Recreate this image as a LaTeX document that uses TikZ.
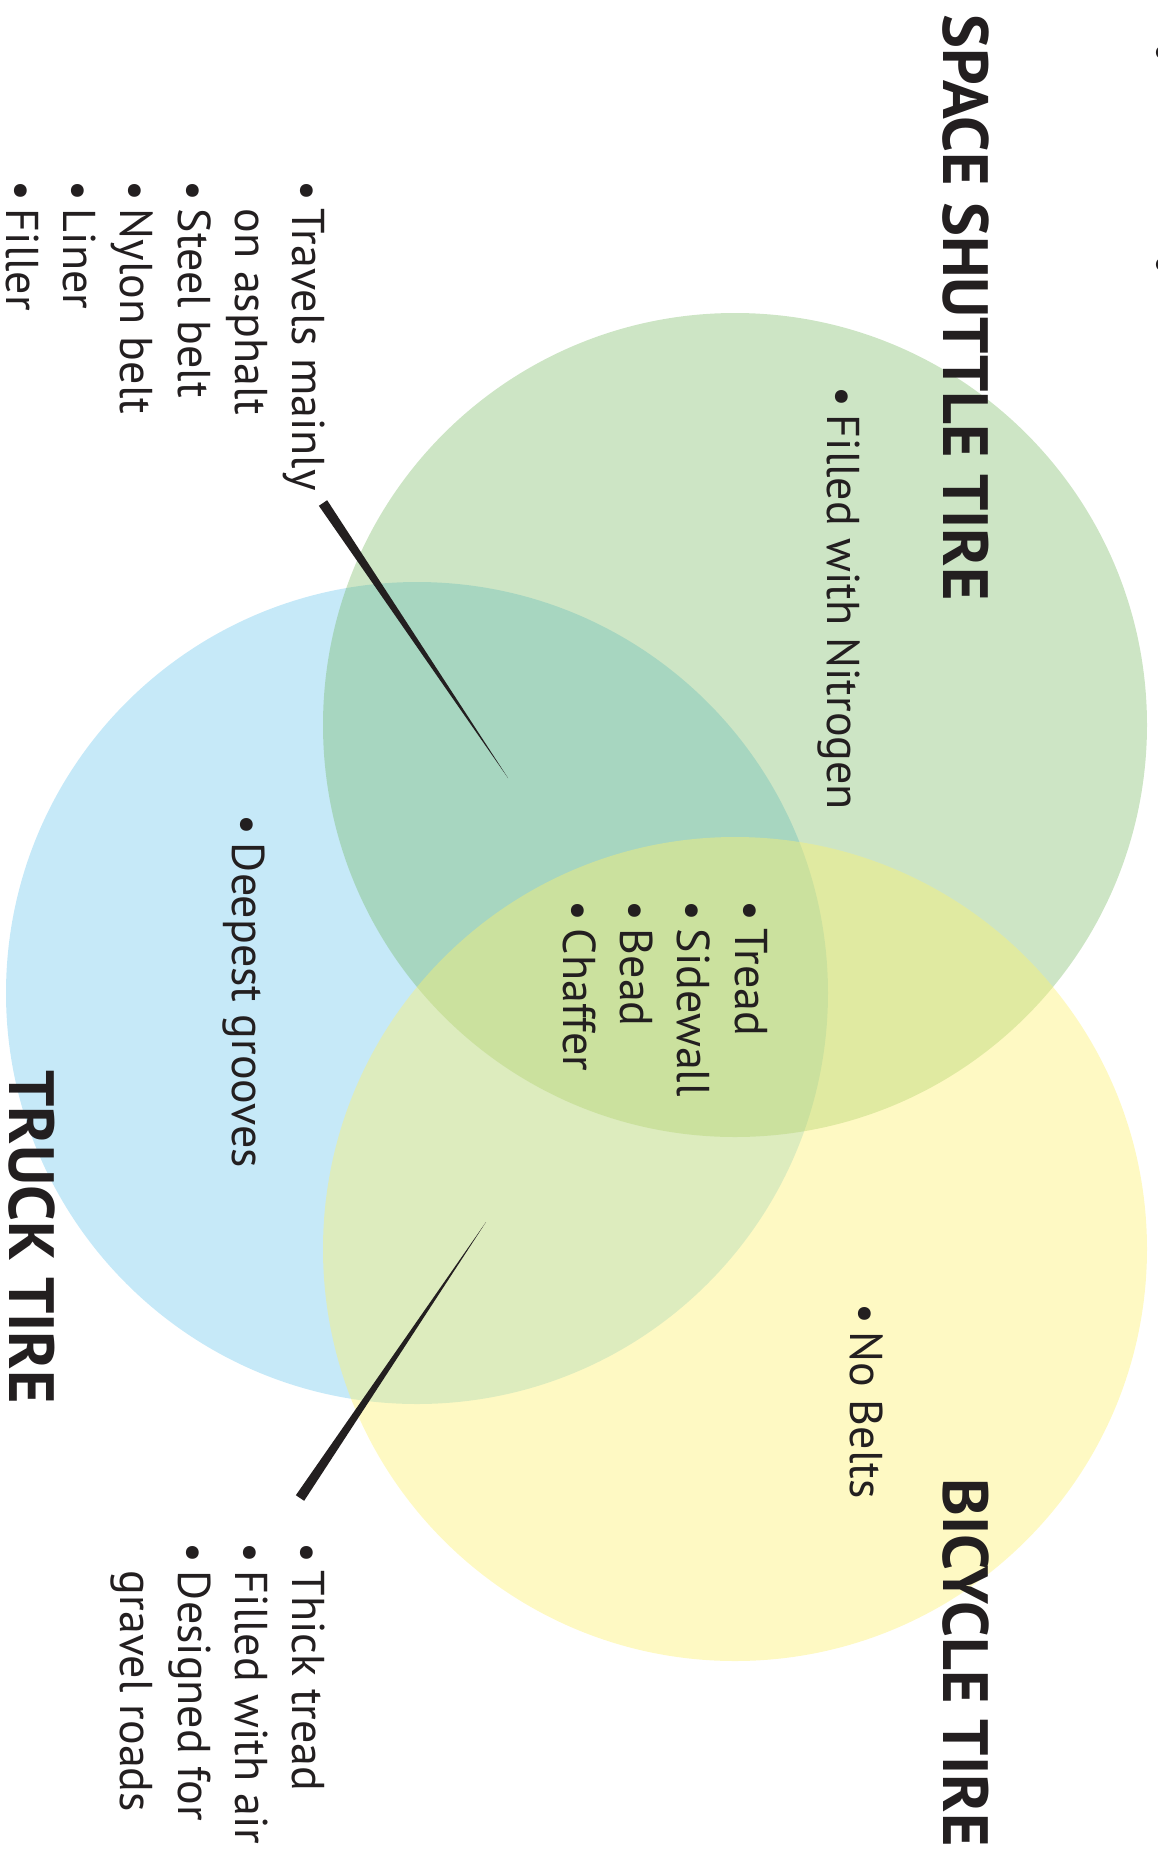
\documentclass[tikz,border=0pt]{standalone}
\usepackage{fontspec}
\setmainfont{PT Sans}
\usetikzlibrary{calc}
\tikzset{every picture/.style={line width=0.75pt}}
\definecolor{inkblack}{RGB}{35,31,32}
\definecolor{truckblue}{RGB}{198,233,248}
\definecolor{shuttlegreen}{RGB}{112,181,89}
\definecolor{bikeyellow}{RGB}{253,241,112}
\newcommand{\bul}{\textbullet\,}
\tikzset{
  bodytext/.style={anchor=north west, inner sep=0pt, rotate=-90, align=left, text=inkblack, font=\fontsize{34.5}{43}\selectfont},
  titletext/.style={anchor=north west, inner sep=0pt, rotate=-90, text=inkblack, font=\fontsize{48}{52}\selectfont\bfseries},
  pointer/.style={fill=inkblack, draw=none}
}

\begin{document}
\begin{tikzpicture}[x=0.75pt,y=0.75pt,yscale=-1,xscale=1]
\useasboundingbox (0,0) rectangle (1157,1874);

%Shape: Circle [truck]
\fill [truckblue] (417,993) circle (411);
%Shape: Circle [space shuttle]
\fill [shuttlegreen, fill opacity=0.35] (735,725) circle (412);
%Shape: Circle [bicycle]
\fill [bikeyellow, fill opacity=0.42] (735,1249) circle (412);

% Text Node
\draw (990,14) node (spacetitle) [titletext] {SPACE SHUTTLE TIRE};
% Text Node
\draw (990,1478) node (biketitle) [titletext] {BICYCLE TIRE};
% Text Node
\draw (56,1070) node (trucktitle) [titletext] {TRUCK TIRE};
% Text Node
\draw (861,386) node (nitrogen) [bodytext] {\bul Filled with Nitrogen};
% Text Node
\draw (326,180) node (travels) [bodytext] {\bul Travels mainly\\\hphantom{\bul}on asphalt\\\bul Steel belt\\\bul Nylon belt\\\bul Liner\\\bul Filler};
% Text Node
\draw (768,900) node (common) [bodytext] {\bul Tread\\\bul Sidewall\\\bul Bead\\\bul Chaffer};
% Text Node
\draw (266,814) node (grooves) [bodytext] {\bul Deepest grooves};
% Text Node
\draw (884,1303) node (nobelts) [bodytext] {\bul No Belts};
% Text Node
\draw (326,1542) node (thicktread) [bodytext] {\bul Thick tread\\\bul Filled with air\\\bul Designed for\\\hphantom{\bul}gravel roads};
% Text Node (cut off at the edge)
\draw (1170,42) node (edgeA) [bodytext] {\textbullet};
\draw (1170,254) node (edgeB) [bodytext] {\textbullet};

%Pointers
\coordinate (travelsend) at (323,503);
\coordinate (travelstip) at (508,778);
\fill [pointer] ($(travelsend)!3.75pt!90:(travelstip)$) -- ($(travelsend)!3.75pt!-90:(travelstip)$) -- (travelstip) -- cycle;
\coordinate (thickend) at (300,1498);
\coordinate (thicktip) at (486,1222);
\fill [pointer] ($(thickend)!3.75pt!90:(thicktip)$) -- ($(thickend)!3.75pt!-90:(thicktip)$) -- (thicktip) -- cycle;

\end{tikzpicture}
\end{document}
